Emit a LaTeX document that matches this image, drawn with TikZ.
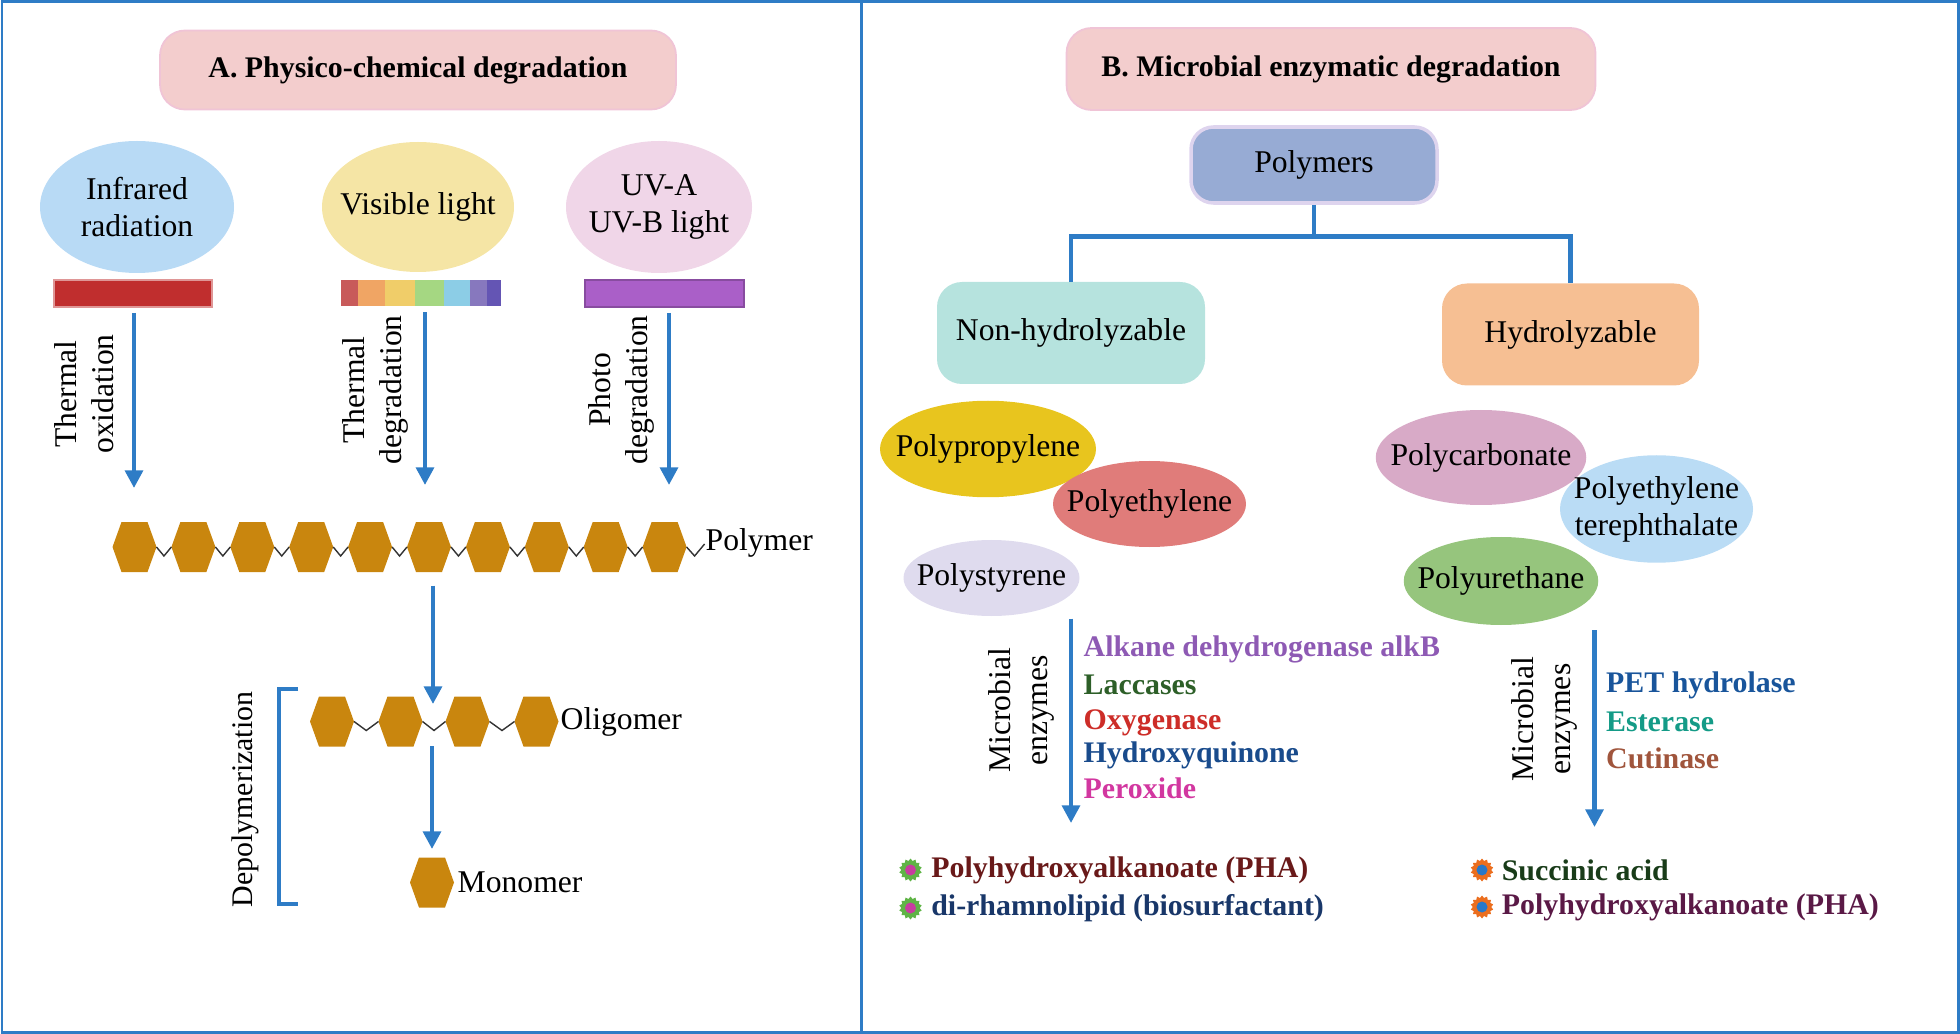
\documentclass[tikz,border=0pt]{standalone}
\usepackage{fontspec}
\setmainfont{Liberation Serif}
\usetikzlibrary{shapes.geometric,arrows.meta,positioning,calc}

\definecolor{lineblue}{RGB}{46,124,198}
\definecolor{titlepink}{RGB}{243,205,205}
\definecolor{titleedge}{RGB}{240,196,214}
\definecolor{hexgold}{RGB}{201,134,14}
\definecolor{irblue}{RGB}{184,218,245}
\definecolor{visyellow}{RGB}{245,229,165}
\definecolor{uvpink}{RGB}{240,214,232}
\definecolor{irred}{RGB}{192,46,46}
\definecolor{uvpurple}{RGB}{170,95,200}
\definecolor{rb1}{RGB}{200,90,90}
\definecolor{rb2}{RGB}{240,165,100}
\definecolor{rb3}{RGB}{240,205,105}
\definecolor{rb4}{RGB}{165,215,130}
\definecolor{rb5}{RGB}{140,205,230}
\definecolor{rb6}{RGB}{135,120,190}
\definecolor{rb7}{RGB}{100,85,180}
\definecolor{polyblue}{RGB}{151,171,212}
\definecolor{lavender}{RGB}{222,212,238}
\definecolor{nhteal}{RGB}{182,227,222}
\definecolor{hypeach}{RGB}{246,191,147}
\definecolor{ppyellow}{RGB}{232,197,30}
\definecolor{pered}{RGB}{224,124,122}
\definecolor{pslilac}{RGB}{223,219,238}
\definecolor{pcpink}{RGB}{216,170,199}
\definecolor{petblue}{RGB}{186,220,245}
\definecolor{purgreen}{RGB}{150,197,125}
\definecolor{alkpurple}{RGB}{142,90,180}
\definecolor{lacgreen}{RGB}{45,95,40}
\definecolor{oxyred}{RGB}{205,45,40}
\definecolor{hydblue}{RGB}{25,75,140}
\definecolor{permag}{RGB}{210,55,160}
\definecolor{petdark}{RGB}{25,85,155}
\definecolor{estteal}{RGB}{20,155,135}
\definecolor{cutbrown}{RGB}{160,85,60}
\definecolor{phared}{RGB}{105,25,25}
\definecolor{rhamnavy}{RGB}{25,55,105}
\definecolor{succgreen}{RGB}{25,60,25}
\definecolor{phapurple}{RGB}{90,25,70}
\definecolor{dotgreen}{RGB}{95,180,70}
\definecolor{dotmag}{RGB}{200,60,160}
\definecolor{dotorange}{RGB}{235,110,30}
\definecolor{dotblue}{RGB}{40,120,200}

\newcommand{\txt}{\fontsize{18}{21}\selectfont}
\newcommand{\ttl}{\fontsize{17}{21}\selectfont\bfseries}

\tikzset{
  hexa/.pic={
    \fill[hexgold] (-0.44,0) -- (-0.26,0.5) -- (0.26,0.5) -- (0.44,0)
      -- (0.26,-0.5) -- (-0.26,-0.5) -- cycle;
    \coordinate (-c) at (0,0);
  }
}

\begin{document}
\begin{tikzpicture}[
    every node/.style={font=\txt},
    titlebox/.style={rectangle, rounded corners=0.5cm, fill=titlepink, draw=titleedge, line width=1pt, font=\ttl},
    blob/.style={ellipse, inner sep=0pt},
    bar/.style={rectangle, minimum width=3.17cm, minimum height=0.54cm, line width=1pt},
    flow/.style={draw=lineblue, line width=2.4pt, -{Triangle[length=10pt,width=10pt]}},
    tree/.style={draw=lineblue, line width=2.6pt},
    bond/.style={draw=black!80, line width=0.8pt},
    catbox/.style={rectangle, rounded corners=0.5cm, minimum width=5.36cm, minimum height=2.04cm},
    side/.style={rotate=90, align=center},
    enz/.style={anchor=west, font=\ttl},
    dot/.style={star, star points=14, star point ratio=1.25, minimum size=0.46cm, inner sep=0pt}
  ]
\useasboundingbox (0,0) rectangle (39.2,-20.68);

% frame
\draw[lineblue, line width=1.7pt] (0.04,-0.04) rectangle (39.16,-20.64);
\draw[lineblue, line width=1.7pt] (17.22,-0.04) -- (17.22,-20.64);

%%% A. physico-chemical
\node (ttla) [titlebox, minimum width=10.32cm, minimum height=1.58cm] at (8.36,-1.4) {A. Physico-chemical degradation};

\node (ir) [blob, minimum width=3.88cm, minimum height=2.64cm, fill=irblue, label={[align=center]center:Infrared\\radiation}] at (2.74,-4.14) {};
\node (vis) [blob, minimum width=3.84cm, minimum height=2.6cm, fill=visyellow, label={center:Visible light}] at (8.36,-4.14) {};
\node (uv) [blob, minimum width=3.72cm, minimum height=2.64cm, fill=uvpink, label={[align=center]center:UV-A\\UV-B light}] at (13.18,-4.14) {};

\node (barir) [bar, fill=irred, draw=irred!50] at (2.66,-5.87) {};
\node (barvis) [bar, minimum width=3.2cm] at (8.41,-5.86) {};
\foreach \a/\b/\c in {6.81/7.15/rb1, 7.15/7.70/rb2, 7.70/8.29/rb3, 8.29/8.87/rb4, 8.87/9.39/rb5, 9.39/9.73/rb6, 9.73/10.01/rb7}
  \fill[\c] (\a,-5.6) rectangle (\b,-6.12);
\node (baruv) [bar, fill=uvpurple, draw=uvpurple!80!black] at (13.29,-5.87) {};

\coordinate (tir) at (2.68,-9.76);
\coordinate (tvis) at (8.5,-9.7);
\coordinate (tuv) at (13.38,-9.7);
\draw[flow, shorten <=0.1cm] (barir.south -| tir) -- (tir);
\draw[flow, shorten <=0.1cm] (barvis.south -| tvis) -- (tvis);
\draw[flow, shorten <=0.1cm] (baruv.south -| tuv) -- (tuv);

\node (lir) [side] at (1.68,-7.88) {Thermal\\oxidation};
\node (lvis) [side] at (7.5,-7.8) {Thermal\\degradation};
\node (luv) [side] at (12.42,-7.8) {Photo\\degradation};

% polymer chain
\foreach \i in {1,...,10}
  \pic (p\i) at ({2.69+1.178*(\i-1)},-10.94) {hexa};
\foreach \i [evaluate=\i as \j using int(\i+1)] in {1,...,9}
  \draw[bond] ([xshift=0.44cm]p\i-c) -- ($(p\i-c)!0.5!(p\j-c)+(0,-0.18)$) -- ([xshift=-0.44cm]p\j-c);
\draw[bond] ([xshift=0.44cm]p10-c) -- ++(0.16,-0.18) -- ++(0.2,0.24);
\node (lpoly) [anchor=west] at (13.99,-10.85) {Polymer};

% oligomer
\foreach \i/\x in {1/6.64, 2/8.01, 3/9.35, 4/10.73}
  \pic (o\i) at (\x,-14.43) {hexa};
\foreach \i [evaluate=\i as \j using int(\i+1)] in {1,...,3}
  \draw[bond] ([xshift=0.44cm]o\i-c) -- ($(o\i-c)!0.5!(o\j-c)+(0,-0.18)$) -- ([xshift=-0.44cm]o\j-c);
\node (loli) [anchor=west] at (11.09,-14.43) {Oligomer};

% monomer
\pic (m1) at (8.64,-17.65) {hexa};
\node (lmono) [anchor=west] at (9.03,-17.65) {Monomer};

\coordinate (a1) at (8.66,-11.71);
\coordinate (a2) at (8.66,-14.08);
\coordinate (a3) at (8.64,-14.92);
\coordinate (a4) at (8.64,-16.98);
\draw[flow] (a1) -- (a2);
\draw[flow] (a3) -- (a4);

\draw[tree, line width=2.6pt] (5.96,-13.78) -| (5.58,-18.08) -- (5.96,-18.08);
\node (ldep) [side, font=\fontsize{17}{20}\selectfont] at (4.91,-15.99) {Depolymerization};

%%% B. microbial enzymatic
\node (ttlb) [titlebox, minimum width=10.58cm, minimum height=1.64cm] at (26.62,-1.38) {B. Microbial enzymatic degradation};

\node (polys) [rectangle, rounded corners=0.45cm, fill=polyblue, draw=lavender, line width=2pt, minimum width=4.92cm, minimum height=1.52cm] at (26.28,-3.3) {Polymers};
\node (nonh) [catbox, fill=nhteal] at (21.42,-6.66) {Non-hydrolyzable};
\node (hyd) [catbox, minimum width=5.14cm, fill=hypeach] at (31.41,-6.69) {Hydrolyzable};

\draw[tree] (polys.south) -- ++(0,-0.64) coordinate (fork);
\draw[tree] (nonh.north) |- (fork) -| (hyd.north);

\node (ppro) [blob, minimum width=4.32cm, minimum height=1.93cm, fill=ppyellow, label=center:Polypropylene] at (19.76,-8.98) {};
\node (peth) [blob, minimum width=3.86cm, minimum height=1.72cm, fill=pered, label=center:Polyethylene] at (22.99,-10.08) {};
\node (psty) [blob, minimum width=3.52cm, minimum height=1.52cm, fill=pslilac, label=center:Polystyrene] at (19.83,-11.56) {};
\node (pcarb) [blob, minimum width=4.21cm, minimum height=1.9cm, fill=pcpink, label=center:Polycarbonate] at (29.62,-9.15) {};
\node (pet) [blob, minimum width=3.86cm, minimum height=2.15cm, fill=petblue, label={[align=center]center:Polyethylene\\terephthalate}] at (33.13,-10.18) {};
\node (pur) [blob, minimum width=3.89cm, minimum height=1.76cm, fill=purgreen, label=center:Polyurethane] at (30.02,-11.62) {};

% enzymes, non-hydrolyzable
\coordinate (el1) at (21.42,-12.37);
\coordinate (el2) at (21.42,-16.46);
\draw[flow] (el1) -- (el2);
\node (mel) [side] at (20.42,-14.21) {Microbial\\enzymes};
\node (e1) [enz, text=alkpurple] at (21.55,-12.98) {Alkane dehydrogenase alkB};
\node (e2) [enz, text=lacgreen] at (21.55,-13.7) {Laccases};
\node (e3) [enz, text=oxyred] at (21.55,-14.46) {Oxygenase};
\node (e4) [enz, text=hydblue] at (21.55,-15.1) {Hydroxyquinone};
\node (e5) [enz, text=permag] at (21.55,-15.77) {Peroxide};

% enzymes, hydrolyzable
\coordinate (er1) at (31.89,-12.6);
\coordinate (er2) at (31.89,-16.54);
\draw[flow] (er1) -- (er2);
\node (mer) [side] at (30.88,-14.38) {Microbial\\enzymes};
\node (h1) [enz, text=petdark] at (32.0,-13.7) {PET hydrolase};
\node (h2) [enz, text=estteal] at (32.0,-14.44) {Esterase};
\node (h3) [enz, text=cutbrown] at (32.0,-15.17) {Cutinase};

% products
\node (bl1) [dot, fill=dotgreen] at (18.21,-17.4) {};
\node (bl2) [dot, fill=dotgreen] at (18.21,-18.16) {};
\fill[dotmag] (bl1.center) circle (0.11) (bl2.center) circle (0.11);
\node (pl1) [enz, text=phared, right=0.1cm of bl1] {Polyhydroxyalkanoate (PHA)};
\node (pl2) [enz, text=rhamnavy, right=0.1cm of bl2] {di-rhamnolipid (biosurfactant)};

\node (br1) [dot, fill=dotorange] at (29.64,-17.4) {};
\node (br2) [dot, fill=dotorange] at (29.64,-18.14) {};
\fill[dotblue] (br1.center) circle (0.11) (br2.center) circle (0.11);
\node (pr1) [enz, text=succgreen, right=0.08cm of br1] {Succinic acid};
\node (pr2) [enz, text=phapurple, right=0.08cm of br2] {Polyhydroxyalkanoate (PHA)};
\end{tikzpicture}
\end{document}
